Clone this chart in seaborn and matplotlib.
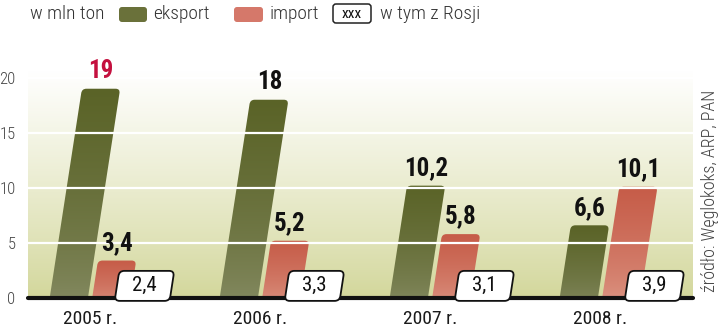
import numpy as np
import pandas as pd
import matplotlib
matplotlib.use("Agg")
import matplotlib.pyplot as plt
import matplotlib.colors as mcolors
from matplotlib.patches import FancyBboxPatch
from matplotlib.transforms import Affine2D
from matplotlib import font_manager as fm
import seaborn as sns

# ---------------- data ----------------
years = ["2005 r.", "2006 r.", "2007 r.", "2008 r."]
eksport = [19, 18, 10.2, 6.6]
import_ = [3.4, 5.2, 5.8, 10.1]
z_rosji = [2.4, 3.3, 3.1, 3.9]
eksport_labels = ["19", "18", "10,2", "6,6"]
import_labels = ["3,4", "5,2", "5,8", "10,1"]
rosja_labels = ["2,4", "3,3", "3,1", "3,9"]
yticks = [0, 5, 10, 15, 20]
source = "źródło: Węglokoks, ARP, PAN"

# ---------------- style ----------------
sns.set_theme(style="white")
names = {f.name for f in fm.fontManager.ttflist}
narrow = next((n for n in ["Roboto Condensed", "Liberation Sans Narrow", "Open Sans Condensed"] if n in names), "Roboto")
plt.rcParams["font.family"] = [narrow, "DejaVu Sans"]

W, H = 720, 335
fig = plt.figure(figsize=(W / 100, H / 100), dpi=100)
AX_L, AX_R, AX_T, AX_B = 28, 693, 70, 298
ax = fig.add_axes([AX_L / W, (H - AX_B) / H, (AX_R - AX_L) / W, (AX_B - AX_T) / H])

df = pd.DataFrame({
    "rok": years * 2,
    "typ": ["eksport"] * 4 + ["import"] * 4,
    "wartosc": eksport + import_,
})
pal = {"eksport": "#5b6428", "import": "#c8604c"}
sns.barplot(data=df, x="rok", y="wartosc", hue="typ", hue_order=["eksport", "import"],
            width=0.5, gap=0.1, palette=pal, ax=ax, legend=False, errorbar=None)
bars = [p for p in ax.patches]

XLIM = (-0.365, 3.547)
YLIM = (0, 20.7)
x_ppu = (AX_R - AX_L) / (XLIM[1] - XLIM[0])
y_ppu = (AX_B - AX_T) / (YLIM[1] - YLIM[0])
asp = x_ppu / y_ppu
s = 0.154 * y_ppu / x_ppu  # slant in data units


def skew_tr(yc=0.0):
    return Affine2D(np.array([[1, s, -s * yc], [0, 1, 0], [0, 0, 1]])) + ax.transData


def grad(c_bottom, c_top, power=0.6, n=128):
    cb = np.array(mcolors.to_rgb(c_bottom))
    ct = np.array(mcolors.to_rgb(c_top))
    t = np.linspace(0, 1, n)[:, None, None] ** power
    return cb * (1 - t) + ct * t


# background gradient
bg = grad("#d3d79b", "#ffffff", power=0.9)
ax.imshow(bg, extent=[0, 1, 0, 1], transform=ax.transAxes, origin="lower",
          aspect="auto", zorder=0, interpolation="bilinear")

cols = {"eksport": ("#8c916c", "#5a6327"), "import": ("#e2a493", "#c65c48")}
rx = 4.5 / x_ppu
for p in bars:
    x0, w, h = p.get_x(), p.get_width(), p.get_height()
    if h <= 0:
        continue
    xc = x0 + w / 2
    idx = int(round(xc))
    kind = "eksport" if xc < idx else "import"
    p.set_visible(False)
    fb = FancyBboxPatch((x0, -1), w, h + 1, boxstyle=f"round,pad=0,rounding_size={rx}",
                        mutation_aspect=asp, transform=skew_tr(), facecolor="none",
                        edgecolor="none")
    im = ax.imshow(grad(*cols[kind], power=0.55), extent=[x0 - 2 * s, x0 + w + s * h + 0.01, -1, h],
                   origin="lower", aspect="auto", zorder=2, interpolation="bilinear")
    im.set_clip_path(fb)
    label = eksport_labels[idx] if kind == "eksport" else import_labels[idx]
    color = "#c4103e" if (kind == "eksport" and idx == 0) else "#111111"
    ax.annotate(label, xy=(xc + s * h, h), xytext=(0, 4), textcoords="offset points",
                ha="center", va="bottom", fontsize=18, fontweight="bold", color=color, zorder=6)

# gridlines over bars
for yv in yticks[1:]:
    ax.axhline(yv, color="white", lw=1.6, zorder=3)
ax.axhline(0, color="#111111", lw=3, zorder=4, clip_on=False)

# "w tym z Rosji" boxes
bw, bh, byc = 55 / x_ppu, 30 / y_ppu, 1.1
for i, (v, lab) in enumerate(zip(z_rosji, rosja_labels)):
    cx = i + 0.32
    fb = FancyBboxPatch((cx - bw / 2, byc - bh / 2), bw, bh,
                        boxstyle=f"round,pad=0,rounding_size={5 / x_ppu}",
                        mutation_aspect=asp, transform=skew_tr(byc), facecolor="white",
                        edgecolor="#111111", lw=1.3, zorder=5, clip_on=False)
    ax.add_patch(fb)
    ax.text(cx, byc, lab, ha="center", va="center", fontsize=15, color="#111111",
            zorder=6, clip_on=False)

ax.set_xlim(*XLIM)
ax.set_ylim(*YLIM)
ax.set_yticks(yticks)
ax.set_yticklabels([str(t) for t in yticks], fontweight="light")
ax.tick_params(axis="y", length=0, pad=9, labelsize=12, labelcolor="#444444")
ax.tick_params(axis="x", length=0, pad=9, labelsize=14, labelcolor="#1a1a1a")
ax.set_xlabel("")
ax.set_ylabel("")
for sp in ax.spines.values():
    sp.set_visible(False)
ax.grid(False)

# ---------------- header legend (pixel coordinates, top-left origin) ----------------
PX = Affine2D().scale(1 / W, -1 / H).translate(0, 1) + fig.transFigure
lg_kw = dict(transform=PX, va="center", fontsize=14, color="#333333", fontweight="light")
fig.text(30, 14, "w mln ton", ha="left", **lg_kw)
fig.add_artist(FancyBboxPatch((119, 7), 28, 15, boxstyle="round,pad=0,rounding_size=3",
                              transform=PX, facecolor="#6a713a", edgecolor="none"))
fig.text(153, 14, "eksport", ha="left", **lg_kw)
fig.add_artist(FancyBboxPatch((234, 7), 29, 15, boxstyle="round,pad=0,rounding_size=3",
                              transform=PX, facecolor="#d5786a", edgecolor="none"))
fig.text(270, 14, "import", ha="left", **lg_kw)
fig.add_artist(FancyBboxPatch((333, 4), 38, 19, boxstyle="round,pad=0,rounding_size=3",
                              transform=PX, facecolor="white", edgecolor="#222222", lw=1.1))
fig.text(352, 14, "xxx", ha="center", transform=PX, va="center", fontsize=11, color="#111111")
fig.text(380, 14, "w tym z Rosji", ha="left", **lg_kw)

fig.text(710, 191, source, transform=PX, rotation=90, ha="center", va="center",
         fontsize=13, color="#444444", fontweight="light")

fig.savefig("out.png", dpi=100)
